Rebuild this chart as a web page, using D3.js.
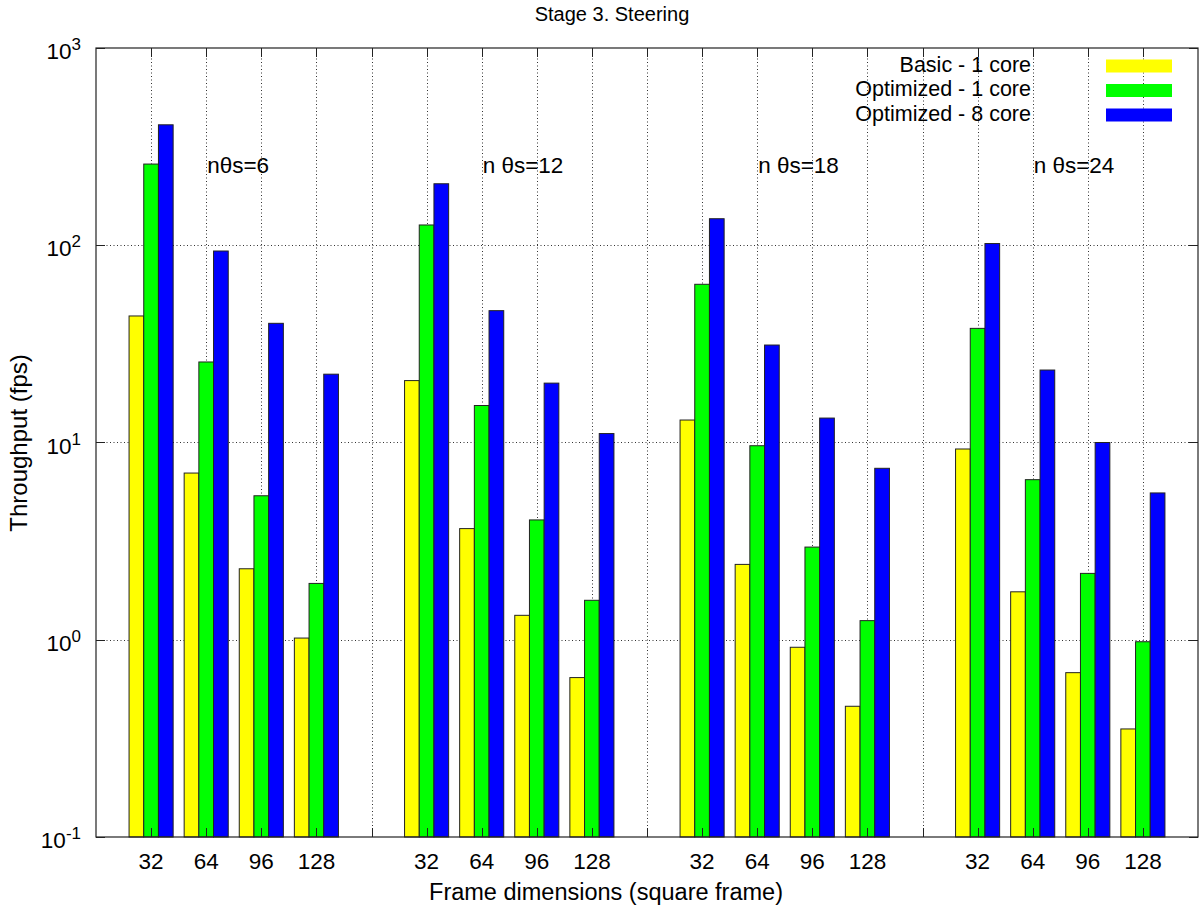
<!DOCTYPE html>
<html><head><meta charset="utf-8">
<script src="https://cdn.jsdelivr.net/npm/d3@7"></script>
<style>body{margin:0;background:#fff}svg{display:block}text{font-family:"Liberation Sans",Arial,Helvetica,sans-serif;fill:#000}</style>
</head><body><svg id="c" width="1200" height="910"></svg>
<script>
// ---- data ----
const groupLabels = ["nθs=6", "n θs=12", "n θs=18", "n θs=24"];
const frameSizes = ["32", "64", "96", "128"];
const seriesNames = ["Basic - 1 core", "Optimized - 1 core", "Optimized - 8 core"];
const seriesColors = ["#ffff00", "#00ff00", "#0000ff"];
const basic1 = [43.8, 7.0, 2.29, 1.02, 20.6, 3.66, 1.33, 0.643, 13.0, 2.41, 0.916, 0.46, 9.27, 1.75, 0.681, 0.353];
const optimized1 = [258, 25.6, 5.37, 1.93, 126.7, 15.4, 4.05, 1.585, 63.4, 9.63, 2.95, 1.25, 37.9, 6.48, 2.17, 0.977];
const optimized8 = [408, 93.5, 40.2, 22.2, 205, 46.6, 20.0, 11.1, 136.3, 31.2, 13.3, 7.4, 102, 23.3, 10.0, 5.55];
const yTickValues = [0.1, 1, 10, 100, 1000];
const yTickExponents = ["-1", "0", "1", "2", "3"];
const groupLabelValue = 250;
const titleText = "Stage 3. Steering";
const xTitle = "Frame dimensions (square frame)";
const yTitle = "Throughput (fps)";

// ---- layout ----
const L = 96, R = 1198, T = 48, B = 837;
const svg = d3.select("#c");
const nGroups = groupLabels.length, perGroup = frameSizes.length, slotsPerGroup = perGroup + 1;
const x = d3.scaleLinear().domain([-1, nGroups * slotsPerGroup - 1]).range([L, R]);
const y = d3.scaleLog().domain([0.1, 1000]).range([B, T]);
const series = [basic1, optimized1, optimized8];
const slotIndex = i => Math.floor(i / perGroup) * slotsPerGroup + (i % perGroup);
const clusterW = 0.8, barW = clusterW / series.length;

// grid
const allSlots = d3.range(0, nGroups * slotsPerGroup - 1);
const grid = svg.append("g").attr("stroke", "#333").attr("stroke-width", 1).attr("stroke-dasharray", "1,2.5");
grid.selectAll("line.v").data(allSlots).join("line")
  .attr("x1", d => Math.round(x(d)) + 0.5).attr("x2", d => Math.round(x(d)) + 0.5)
  .attr("y1", T).attr("y2", B);
grid.selectAll("line.h").data(yTickValues.slice(1, -1)).join("line")
  .attr("y1", d => Math.round(y(d)) + 0.5).attr("y2", d => Math.round(y(d)) + 0.5)
  .attr("x1", L).attr("x2", R);

// bars
series.forEach((vals, s) => {
  svg.append("g").selectAll("rect").data(vals).join("rect")
    .attr("x", (d, i) => x(slotIndex(i) - clusterW / 2 + s * barW))
    .attr("width", x(barW) - x(0))
    .attr("y", d => y(d))
    .attr("height", d => B - y(d))
    .attr("fill", seriesColors[s])
    .attr("stroke", "#222").attr("stroke-width", 1);
});

// border
svg.append("rect").attr("x", L).attr("y", T).attr("width", R - L).attr("height", B - T)
  .attr("fill", "none").attr("stroke", "#222").attr("stroke-width", 1.2);

// ticks
const tk = 9;
const ticks = svg.append("g").attr("stroke", "#222").attr("stroke-width", 1);
yTickValues.forEach(v => {
  const yy = Math.round(y(v)) + 0.5;
  ticks.append("line").attr("x1", L).attr("x2", L + tk).attr("y1", yy).attr("y2", yy);
  ticks.append("line").attr("x1", R).attr("x2", R - tk).attr("y1", yy).attr("y2", yy);
});
allSlots.forEach(d => {
  const xx = Math.round(x(d)) + 0.5;
  ticks.append("line").attr("x1", xx).attr("x2", xx).attr("y1", B).attr("y2", B - tk);
  ticks.append("line").attr("x1", xx).attr("x2", xx).attr("y1", T).attr("y2", T + tk);
});

// y tick labels
yTickValues.forEach((v, i) => {
  const t = svg.append("text").attr("x", 81).attr("y", y(v) + 11).attr("text-anchor", "end").attr("font-size", 22.5);
  t.append("tspan").text("10");
  t.append("tspan").attr("font-size", 17).attr("dy", -9).text(yTickExponents[i]);
});

// x tick labels
d3.range(nGroups * perGroup).forEach(i => {
  svg.append("text").attr("x", x(slotIndex(i))).attr("y", B + 32)
    .attr("text-anchor", "middle").attr("font-size", 22.5).text(frameSizes[i % perGroup]);
});

// group labels
groupLabels.forEach((g, gi) => {
  svg.append("text").attr("x", x(gi * slotsPerGroup + 1) + 1).attr("y", y(groupLabelValue))
    .attr("dominant-baseline", "middle").attr("font-size", 22.5).text(g);
});

// titles
svg.append("text").attr("x", 612).attr("y", 21).attr("text-anchor", "middle").attr("font-size", 20).text(titleText);
svg.append("text").attr("x", 606).attr("y", 900).attr("text-anchor", "middle").attr("font-size", 23.5).text(xTitle);
svg.append("text").attr("transform", "translate(27,443) rotate(-90)").attr("text-anchor", "middle").attr("font-size", 24).text(yTitle);

// legend
const legRows = [66, 90.5, 115];
seriesNames.forEach((n, s) => {
  svg.append("text").attr("x", 1031).attr("y", legRows[s]).attr("dominant-baseline", "middle")
    .attr("text-anchor", "end").attr("font-size", 21.5).text(n);
  svg.append("rect").attr("x", 1106).attr("y", legRows[s] - 6.5).attr("width", 66).attr("height", 13)
    .attr("fill", seriesColors[s]);
});
</script></body></html>
